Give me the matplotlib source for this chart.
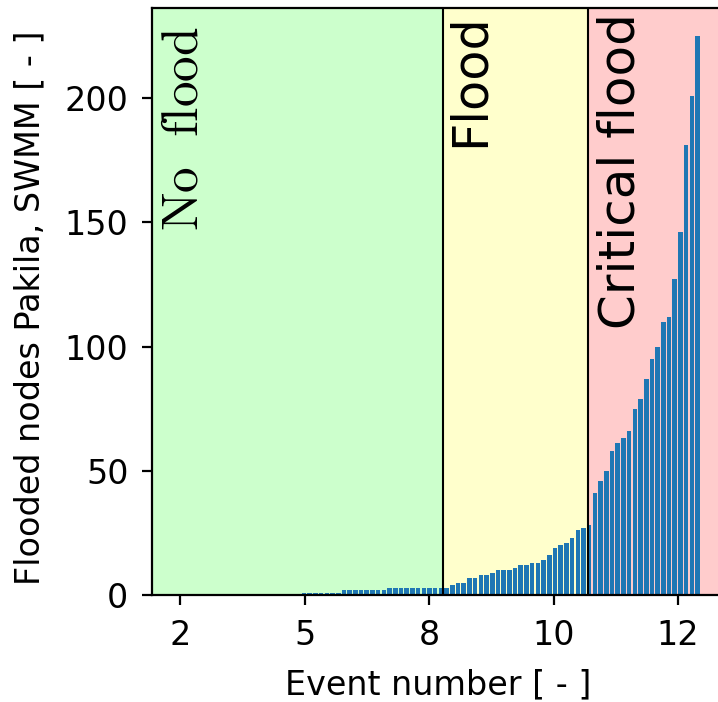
import matplotlib
matplotlib.use("Agg")
import matplotlib.pyplot as plt
import numpy as np

# Flooded node counts per event, sorted ascending
no_flood_values = [0] * 22 + [1] * 7 + [2] * 8 + [3] * 10
flood_values = [3, 4, 5, 5, 7, 7, 8, 8, 9, 10, 10, 10, 11, 12, 12, 13, 13,
                14, 16, 19, 20, 21, 23, 26, 27, 28]
critical_values = [41, 46, 50, 58, 61, 63, 66, 75, 79, 87, 95, 100, 110, 112,
                   127, 146, 181, 201, 225]
values = no_flood_values + flood_values + critical_values

tick_labels = ["2", "5", "8", "10", "12"]

# Class boundaries (bar index units)
boundaries = [46.4, 71.8]
zone_colors = ["#ccffcc", "#ffffcc", "#ffcccc"]
zone_labels = [r"$\mathrm{No\ \ flood}$", "Flood", "Critical flood"]

plt.rcParams["mathtext.fontset"] = "cm"
plt.rcParams["font.family"] = ["DejaVu Sans"]

fig = plt.figure(figsize=(7.18, 7.02), dpi=100)
ax = fig.add_axes([0.2117, 0.1524, 0.796, 0.8362])

x = np.arange(len(values))
ax.bar(x, values, width=0.8, color="#1f77b4", zorder=2)
xlim = (-4.65, 95.55)
ylim = ax.get_ylim()

edges = [xlim[0]] + boundaries + [xlim[1]]
for i in range(3):
    ax.axvspan(edges[i], edges[i + 1], color=zone_colors[i], zorder=0, lw=0)
for b in boundaries:
    ax.axvline(b, color="black", lw=1.5, zorder=3)
ax.set_xlim(xlim)
ax.set_ylim(0, ylim[1])

ax.text(0.9, 229, zone_labels[0], rotation=90, ha="center", va="top", fontsize=37)
ax.text(51.1, 234, zone_labels[1], rotation=90, ha="center", va="top", fontsize=35.5)
ax.text(77.4, 234, zone_labels[2], rotation=90, ha="center", va="top", fontsize=36)

ax.set_xticks(np.linspace(0.26, 87.58, len(tick_labels)))
ax.set_xticklabels(tick_labels)
ax.set_yticks([0, 50, 100, 150, 200])
ax.tick_params(labelsize=24, length=7, width=1.6)
ax.tick_params(axis="x", pad=10)
ax.tick_params(axis="y", pad=10)
for s in ax.spines.values():
    s.set_linewidth(1.6)

ax.set_xlabel("Event number [ - ]", fontsize=24, labelpad=12)
ax.set_ylabel("Flooded nodes Pakila, SWMM [ - ]", fontsize=24)
ax.yaxis.set_label_coords(-0.185, 0.49)

fig.savefig("out.png", dpi=100)
